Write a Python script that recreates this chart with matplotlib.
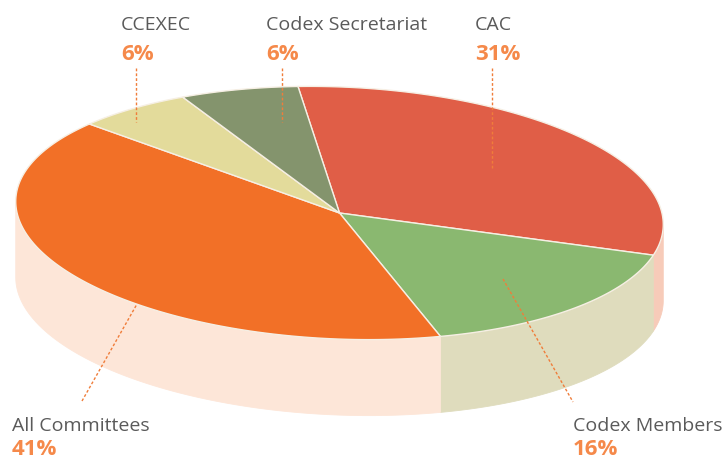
import numpy as np
import matplotlib.pyplot as plt
from matplotlib.patches import Polygon

plt.rcParams['font.family'] = ['Open Sans', 'DejaVu Sans']

# data
labels = ['CAC', 'Codex Members', 'All Committees', 'CCEXEC', 'Codex Secretariat']
shares = [31, 16, 41, 6, 6]
top_colors = ['#E05E47', '#8AB870', '#F27027', '#E3DB9B', '#84946D']
wall_colors = ['#F7CBB9', '#DFDCBD', '#FDE6D8', '#F3EFD6', '#E3E6DA']

# geometry of the fake 3d pie (pixel coords)
cx, cy = 339.5, 214.0
a, b = 324.0, 126.0
phi = np.radians(2.4)
depth = 76
start = 98.3


def pt(t_deg, dy=0.0):
    t = np.radians(t_deg)
    x = cx + a * np.cos(t) * np.cos(phi) + b * np.sin(t) * np.sin(phi)
    y = cy + a * np.cos(t) * np.sin(phi) - b * np.sin(t) * np.cos(phi) + dy
    return np.column_stack([x, y])


fig = plt.figure(figsize=(7.25, 4.6), dpi=100)
ax = fig.add_axes([0, 0, 1, 1])
ax.set_xlim(0, 725)
ax.set_ylim(460, 0)
ax.axis('off')

# slice boundaries, clockwise
bounds = [start]
for s in shares:
    bounds.append(bounds[-1] - s / 100 * 360)

t_edge = np.degrees(np.arctan((b / a) * np.tan(phi)))
front = (t_edge - 180, t_edge)

# side wall
for i in range(len(shares)):
    lo, hi = bounds[i + 1], bounds[i]
    for k in (-1, 0, 1):
        f0, f1 = front[0] + 360 * k, front[1] + 360 * k
        l2, h2 = max(lo, f0), min(hi, f1)
        if h2 > l2:
            ts = np.linspace(l2, h2, 80)
            poly = np.vstack([pt(ts), pt(ts[::-1], depth)])
            ax.add_patch(Polygon(poly, closed=True, fc=wall_colors[i],
                                 ec=wall_colors[i], lw=0.6, zorder=1))

# top face
for i in range(len(shares)):
    ts = np.linspace(bounds[i + 1], bounds[i], 200)
    poly = np.vstack([[cx, cy], pt(ts)])
    ax.add_patch(Polygon(poly, closed=True, fc=top_colors[i],
                         ec='#F6EFE4', lw=1.0, zorder=2))

# labels
name_col = '#5A5A5A'
pct_col = '#F5894A'
lab_pos = {
    'CCEXEC': (121, 30, 60),
    'Codex Secretariat': (266, 30, 60),
    'CAC': (475, 30, 60),
    'All Committees': (12, 431, 455),
    'Codex Members': (573, 431, 455),
}
leaders = {
    'CCEXEC': ((136, 69), (136, 123)),
    'Codex Secretariat': ((282, 69), (282, 123)),
    'CAC': ((492, 69), (492, 170)),
    'All Committees': ((82, 402), (137, 305)),
    'Codex Members': ((503, 280), (573, 403)),
}
for name, s in zip(labels, shares):
    x, y1, y2 = lab_pos[name]
    ax.text(x, y1, name, color=name_col, fontsize=14, ha='left', va='baseline', zorder=5)
    ax.text(x, y2, f'{s}%', color=pct_col, fontsize=16, fontweight='bold',
            ha='left', va='baseline', zorder=5)
    (x0, y0), (x1, y1_) = leaders[name]
    ax.plot([x0, x1], [y0, y1_], color='#F07D3A', lw=1, ls=(0, (2, 1.5)), zorder=4)

fig.savefig('out.png', dpi=100, facecolor='white')
